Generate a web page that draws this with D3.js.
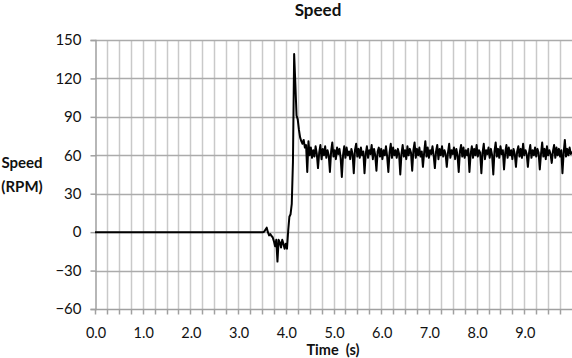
<!DOCTYPE html>
<html>
<head>
<meta charset="utf-8">
<script src="https://cdn.jsdelivr.net/npm/d3@7"></script>
<style>
  html, body { margin: 0; padding: 0; background: #fff; }
  svg { display: block; font-family: Lato, "Open Sans", sans-serif; }
</style>
</head>
<body>
<svg id="chart" width="572" height="358"></svg>
<script>
// ---- data ----
const chartTitle = "Speed";
const yTitleLines = ["Speed", "(RPM)"];
const xTitle = "Time  (s)";
const yTicks = [-60, -30, 0, 30, 60, 90, 120, 150];
const xTickValues = [0, 1, 2, 3, 4, 5, 6, 7, 8, 9];
const xTickLabels = ["0.0", "1.0", "2.0", "3.0", "4.0", "5.0", "6.0", "7.0", "8.0", "9.0"];
const gridStep = 0.25;

// motor at rest from t = 0 s until the samples below start
const restStart = [0, 0];
// sampled speed (RPM) from t = 3.5 s, every 0.025 s, up to 10 s
const sampleStart = 3.5;
const sampleStep = 0.025;
const speed = [
  0, 0, 0.5, 2, 3.5, 0, -2.5, -1.5, -3, -4,
  -7, -11, -6, -23, -6, -8, -12, -6, -9, -13,
  -9, -13, 1, 12, 14, 22, 55, 139, 116, 91,
  88, 80, 74, 71, 69, 72, 66, 68,
  47, 71, 60, 66, 58, 64, 59, 67, 61,
  50, 62, 68, 57, 65, 60, 67, 58, 64, 60,
  47, 63, 70, 59, 64, 57, 66, 61, 65, 58,
  43, 60, 67, 58, 66, 60, 63, 57, 65, 61,
  46, 64, 69, 59, 65, 58, 66, 60, 63,
  46, 61, 67, 58, 64, 61, 68, 57, 65, 60,
  48, 63, 66, 59, 65, 57, 64, 60, 67, 59,
  47, 62, 69, 58, 66, 60, 64, 58, 65, 61,
  45, 61, 68, 59, 64, 57, 67, 60, 65, 62,
  48, 64, 70, 58, 65, 60, 66, 59, 63,
  51, 62, 71, 59, 66, 58, 64, 61, 67, 60,
  50, 63, 68, 57, 65, 60, 67, 59, 64, 61,
  51, 62, 69, 58, 64, 61, 66, 57, 65, 60,
  47, 63, 68, 59, 66, 58, 64, 60, 65,
  47, 61, 67, 58, 65, 60, 68, 59, 64, 62,
  46, 62, 69, 57, 64, 61, 66, 58, 65, 60,
  45, 63, 70, 59, 65, 58, 67, 61, 64,
  49, 62, 68, 58, 66, 60, 64, 57, 65, 61,
  51, 63, 67, 59, 65, 58, 69, 60, 64, 61,
  51, 62, 68, 58, 64, 60, 66, 59, 65, 62,
  49, 61, 70, 59, 65, 57, 67, 60, 64, 61,
  54, 63, 68, 58, 66, 60, 65, 59, 64,
  46, 62, 72, 59, 65, 60, 66, 61, 63
];

// ---- layout ----
const plot = { left: 95, right: 572, top: 40, bottom: 309 };
const svg = d3.select("#chart");

const x = d3.scaleLinear().domain([0, 10]).range([plot.left, plot.right]);
const y = d3.scaleLinear().domain([-60, 150]).range([plot.bottom, plot.top]);

// vertical gridlines
const gridTimes = d3.range(gridStep, 10, gridStep);
svg.append("g").selectAll("line").data(gridTimes).join("line")
  .attr("x1", d => Math.round(x(d)) + 0.5).attr("x2", d => Math.round(x(d)) + 0.5)
  .attr("y1", plot.top).attr("y2", plot.bottom)
  .attr("stroke", "#c9c9c9").attr("stroke-width", 1.5);

// horizontal gridlines
svg.append("g").selectAll("line").data(yTicks.filter(d => d > -60)).join("line")
  .attr("x1", plot.left).attr("x2", plot.right)
  .attr("y1", d => Math.round(y(d)) + 0.5).attr("y2", d => Math.round(y(d)) + 0.5)
  .attr("stroke", "#ababab").attr("stroke-width", 1.5);

// y axis
const yAxis = svg.append("g")
  .attr("transform", `translate(${plot.left + 0.5},0)`)
  .call(d3.axisLeft(y).tickValues(yTicks).tickSize(5).tickPadding(9).tickFormat(d3.format("d")));
yAxis.select(".domain").attr("stroke", "#a0a0a0").attr("stroke-width", 1.5);
yAxis.selectAll(".tick line").attr("stroke", "#a0a0a0").attr("stroke-width", 1.5);
yAxis.selectAll(".tick text").attr("font-size", 15).attr("fill", "#111")
  .attr("font-family", "Lato, 'Open Sans', sans-serif");

// x axis line + minor tick marks every grid step
const xAxisG = svg.append("g").attr("transform", `translate(0,${plot.bottom + 0.5})`);
xAxisG.append("line").attr("x1", plot.left).attr("x2", plot.right)
  .attr("stroke", "#a0a0a0").attr("stroke-width", 1.5);
xAxisG.selectAll("line.tk").data(d3.range(0, 10, gridStep)).join("line")
  .attr("class", "tk")
  .attr("x1", d => Math.round(x(d)) + 0.5).attr("x2", d => Math.round(x(d)) + 0.5)
  .attr("y1", 0).attr("y2", 5)
  .attr("stroke", "#a0a0a0").attr("stroke-width", 1.5);
xAxisG.selectAll("text").data(xTickValues).join("text")
  .attr("x", d => x(d) + 1).attr("y", 28)
  .attr("text-anchor", "middle").attr("font-size", 14.5).attr("fill", "#111")
  .text((d, i) => xTickLabels[i]);

// data line
const points = [restStart].concat(speed.map((v, i) => [sampleStart + i * sampleStep, v]));
const line = d3.line().x(d => x(d[0])).y(d => y(d[1]));
svg.append("path").datum(points)
  .attr("d", line).attr("fill", "none").attr("stroke", "#000")
  .attr("stroke-width", 2).attr("stroke-linejoin", "round");

// titles
svg.append("text").attr("x", 318).attr("y", 16).attr("text-anchor", "middle")
  .attr("font-size", 17).attr("font-weight", "bold").attr("fill", "#111").text(chartTitle);
svg.append("text").attr("x", 333).attr("y", 355).attr("text-anchor", "middle")
  .attr("font-size", 14.5).attr("font-weight", "bold").attr("fill", "#111")
  .attr("xml:space", "preserve").style("white-space", "pre").text(xTitle);
svg.append("text").attr("x", 22).attr("text-anchor", "middle")
  .attr("font-size", 15).attr("font-weight", "bold").attr("fill", "#111")
  .selectAll("tspan").data(yTitleLines).join("tspan")
  .attr("x", 22).attr("y", (d, i) => 168 + i * 24).text(d => d);
</script>
</body>
</html>
